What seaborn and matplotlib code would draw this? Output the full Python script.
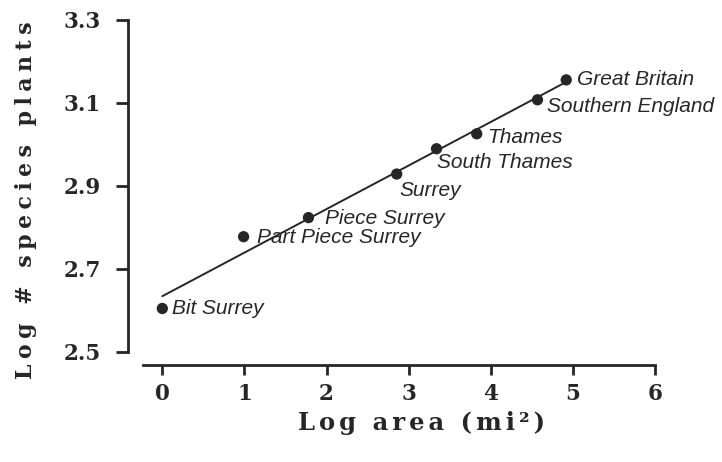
import numpy as np
import pandas as pd
import matplotlib
matplotlib.use("Agg")
import matplotlib.pyplot as plt
import seaborn as sns

# ---- data ----
regions = ["Bit Surrey", "Part Piece Surrey", "Piece Surrey", "Surrey",
           "South Thames", "Thames", "Southern England", "Great Britain"]
log_area = [0.0, 0.99, 1.78, 2.855, 3.34, 3.83, 4.57, 4.92]
log_species = [2.604, 2.777, 2.823, 2.928, 2.989, 3.025, 3.107, 3.155]
x_ticks = [0, 1, 2, 3, 4, 5, 6]
x_tick_labels = ["0", "1", "2", "3", "4", "5", "6"]
y_ticks = [2.5, 2.7, 2.9, 3.1, 3.3]
y_tick_labels = ["2.5", "2.7", "2.9", "3.1", "3.3"]
x_label = "Log area (mi\u00b2)"
y_label = "Log # species plants"

df = pd.DataFrame({"region": regions, "log_area": log_area, "log_species": log_species})

# label placement (pixels, relative to the point)
label_offsets = {
    "Bit Surrey": (10, 0),
    "Part Piece Surrey": (13, -1),
    "Piece Surrey": (17, -1),
    "Surrey": (3, -16),
    "South Thames": (0, -14),
    "Thames": (10, -4),
    "Southern England": (10, -7),
    "Great Britain": (11, 0),
}

INK = "#262626"

sns.set_style("ticks")
plt.rcParams["font.family"] = ["DejaVu Sans"]

fig = plt.figure(figsize=(7.22, 4.62), dpi=100)
fig.patch.set_facecolor("white")
ax = fig.add_axes([128 / 722, (462 - 364.5) / 462, 531 / 722, 348.95 / 462])
ax.set_facecolor("white")

sns.regplot(data=df, x="log_area", y="log_species", ax=ax, scatter=False,
            ci=None, truncate=True, line_kws=dict(color=INK, lw=1.4))
sns.scatterplot(data=df, x="log_area", y="log_species", ax=ax, s=66,
                color=INK, edgecolor="none", zorder=3, legend=False)

for r, xv, yv in zip(regions, log_area, log_species):
    dx, dy = label_offsets[r]
    ax.annotate(r, (xv, yv), xytext=(dx, dy), textcoords="offset pixels",
                ha="left", va="center", fontsize=15, fontstyle="italic",
                family="Liberation Sans", color=INK)

ax.set_xlim(-0.418, 6.05)
ax.set_ylim(2.469, 3.31)

for s in ["top", "right"]:
    ax.spines[s].set_visible(False)
ax.spines["left"].set_bounds(2.5, 3.3)
ax.spines["bottom"].set_bounds(-0.235, 6)
for s in ["left", "bottom"]:
    ax.spines[s].set_linewidth(2.0)
    ax.spines[s].set_color(INK)

ax.set_xticks(x_ticks)
ax.set_xticklabels(x_tick_labels, fontfamily="DejaVu Serif",
                   fontweight="bold", fontsize=15.5, color=INK)
ax.set_yticks(y_ticks)
ax.set_yticklabels(y_tick_labels, fontfamily="DejaVu Serif",
                   fontweight="bold", fontsize=15.5, color=INK)
ax.tick_params(axis="y", length=8.5, width=2, pad=11, color=INK)
ax.tick_params(axis="x", length=7, width=2, pad=6, color=INK)


def spaced(s, gap):
    return gap.join(s)


ax.set_xlabel(spaced(x_label, "\u2006"), fontfamily="DejaVu Serif",
              fontweight="bold", fontsize=17.5, color=INK)
ax.xaxis.label.set_va("center")
ax.xaxis.set_label_coords(0.552, -0.168)
ax.set_ylabel(spaced(y_label, "\u2005"), fontfamily="DejaVu Serif",
              fontweight="bold", fontsize=15.8, color=INK)
ax.yaxis.label.set_va("center")
ax.yaxis.set_label_coords(-0.192, 0.471)

fig.savefig("out.png", dpi=100, facecolor="white")
